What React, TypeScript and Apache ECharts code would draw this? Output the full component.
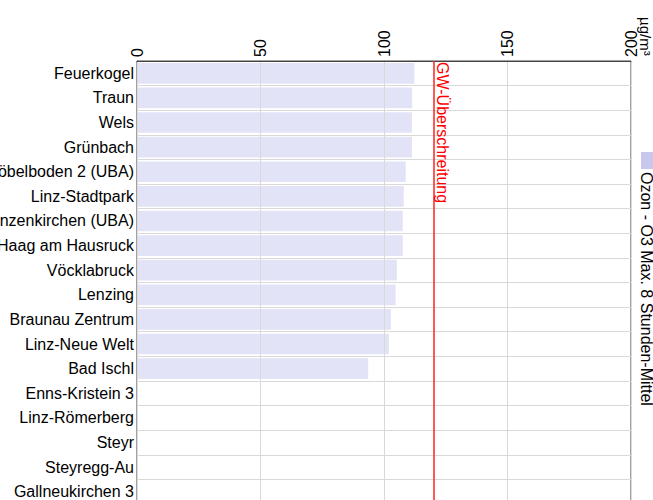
import React, { useEffect, useRef } from "react";
import * as echarts from "echarts";

const stations = [
  "Feuerkogel",
  "Traun",
  "Wels",
  "Grünbach",
  "Zöbelboden 2 (UBA)",
  "Linz-Stadtpark",
  "Enzenkirchen (UBA)",
  "Haag am Hausruck",
  "Vöcklabruck",
  "Lenzing",
  "Braunau Zentrum",
  "Linz-Neue Welt",
  "Bad Ischl",
  "Enns-Kristein 3",
  "Linz-Römerberg",
  "Steyr",
  "Steyregg-Au",
  "Gallneukirchen 3",
];

const ozoneValues: (number | null)[] = [
  112.3, 111.4, 111.3, 111.3, 108.8, 108.0, 107.6, 107.6, 105.2, 104.7, 102.8, 102.0, 93.6,
  null, null, null, null, null,
];

const xTicks = { min: 0, max: 200, interval: 50 };
const limitValue = 120;
const limitLabel = "GW-Überschreitung";
const unitLabel = "µg/m³";
const seriesName = "Ozon - O3 Max. 8 Stunden-Mittel";

const FONT = '"Liberation Sans", Arial, sans-serif';

export default function App() {
  const ref = useRef<HTMLDivElement>(null);

  useEffect(() => {
    if (!ref.current) return;
    const chart = echarts.init(ref.current, undefined, { renderer: "svg" });
    chart.setOption({
      animation: false,
      textStyle: { fontFamily: FONT },
      grid: {
        left: 137,
        top: 61,
        width: 494,
        height: 443,
        containLabel: false,
        outerBoundsMode: "none",
        show: true,
        borderColor: "#444",
        borderWidth: 1,
        backgroundColor: "transparent",
      },
      xAxis: {
        type: "value",
        position: "top",
        min: xTicks.min,
        max: xTicks.max,
        interval: xTicks.interval,
        z: 3,
        axisLine: { show: true, lineStyle: { color: "#444", width: 1 } },
        axisTick: { show: false },
        splitLine: { show: true, lineStyle: { color: "#d9d9d9", width: 1 } },
        axisLabel: {
          rotate: -90,
          margin: 4,
          fontSize: 16,
          color: "#000",
          fontFamily: FONT,
        },
      },
      yAxis: {
        type: "category",
        inverse: true,
        data: stations,
        z: 0,
        axisLine: { show: true, lineStyle: { color: "#444", width: 1 } },
        axisTick: { show: false },
        splitLine: { show: true, lineStyle: { color: "#d9d9d9", width: 1 } },
        axisLabel: {
          margin: 3,
          fontSize: 16,
          color: "#000",
          fontFamily: FONT,
        },
      },
      series: [
        {
          name: seriesName,
          type: "bar",
          data: ozoneValues,
          barCategoryGap: "16%",
          itemStyle: { color: "#e3e3f7" },
          z: 2,
          markLine: {
            silent: true,
            z: 5,
            symbol: "none",
            lineStyle: { color: "#ff2020", width: 1.5, type: "solid" },
            label: {
              show: true,
              position: "insideStartTop",
              formatter: limitLabel,
              color: "#ff0000",
              fontSize: 16,
              fontFamily: FONT,
              distance: 1,
            },
            data: [{ xAxis: limitValue }],
          },
        },
      ],
      graphic: [
        {
          type: "text",
          x: 638,
          y: 17,
          rotation: -Math.PI / 2,
          style: {
            text: unitLabel,
            fontSize: 15,
            fontFamily: FONT,
            fill: "#000",
            align: "left",
            verticalAlign: "bottom",
          },
        },
        {
          type: "rect",
          shape: { x: 641, y: 152, width: 14, height: 17 },
          style: { fill: "#c8c8ef" },
        },
        {
          type: "text",
          x: 638,
          y: 172,
          rotation: -Math.PI / 2,
          style: {
            text: seriesName,
            fontSize: 16,
            fontFamily: FONT,
            fill: "#000",
            align: "left",
            verticalAlign: "bottom",
          },
        },
      ],
    });
    return () => chart.dispose();
  }, []);

  return (
    <div
      ref={ref}
      style={{ position: "absolute", left: 0, top: 0, width: 653, height: 500 }}
    />
  );
}
